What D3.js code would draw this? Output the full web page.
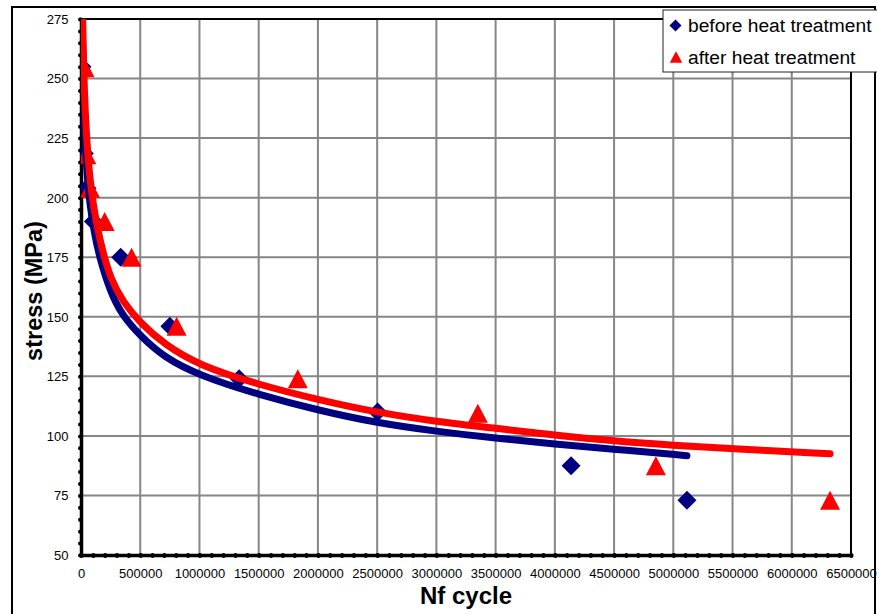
<!DOCTYPE html>
<html>
<head>
<meta charset="utf-8">
<script src="https://cdn.jsdelivr.net/npm/d3@7"></script>
<style>
  body { margin: 0; background: #fff; }
  svg { display: block; font-family: "Liberation Sans", Arial, sans-serif; }
</style>
</head>
<body>
<svg id="chart" width="877" height="614"></svg>
<script>
// ====== data ======
const seriesNames = ["before heat treatment", "after heat treatment"];

// measured points
const beforeCycles = [8000, 28000, 50000, 105000, 335000, 750000, 1335000, 2504000, 4137000, 5115000];
const beforeStress = [255, 218.5, 204, 190, 175, 146, 124, 110, 87.5, 73];
const afterCycles  = [30000, 45000, 76000, 200000, 427000, 807000, 1830000, 3350000, 4853000, 6323000];
const afterStress  = [254.5, 218, 204, 190, 175, 146, 124, 109.5, 87.5, 73];

// trend lines
const beforeFitCycles = [10000, 18000, 30000, 50000, 75000, 110000, 150000, 250000, 350000, 500000, 700000,
                         1000000, 1500000, 2000000, 2500000, 3000000, 3500000, 4000000, 4500000, 5115000];
const beforeFitStress = [275, 250, 228, 210, 197, 186, 176, 160, 150.5, 142, 133,
                         125.3, 117.3, 110.8, 105.4, 101.9, 99.0, 96.6, 94.4, 91.7];
const afterFitCycles  = [14000, 22000, 35000, 55000, 85000, 130000, 185000, 250000, 350000, 500000, 700000,
                         1000000, 1500000, 2000000, 2500000, 3000000, 3500000, 4000000, 4500000, 5000000,
                         5500000, 6323000];
const afterFitStress  = [275, 255, 236, 219, 203, 189, 177, 166, 156.5, 147.5, 138.5,
                         129.5, 121.5, 115.2, 109.8, 106, 103.2, 100.3, 97.8, 96,
                         94.6, 92.5];

const xTickValues = [0, 500000, 1000000, 1500000, 2000000, 2500000, 3000000, 3500000,
                     4000000, 4500000, 5000000, 5500000, 6000000, 6500000];
const yTickValues = [50, 75, 100, 125, 150, 175, 200, 225, 250, 275];

// ====== layout ======
const svg = d3.select("#chart");
const plot = { left: 81, top: 19, right: 851, bottom: 555 };
const navy = "#000080", red = "#ff0000", grid = "#868686";

const x = d3.scaleLinear().domain([0, 6500000]).range([plot.left, plot.right]);
const y = d3.scaleLinear().domain([50, 275]).range([plot.bottom, plot.top]);

// outer chart frame
svg.append("rect")
  .attr("x", 12).attr("y", 7).attr("width", 863).attr("height", 640)
  .attr("fill", "#fff").attr("stroke", "#000").attr("stroke-width", 2);

svg.append("clipPath").attr("id", "plotclip")
  .append("rect")
  .attr("x", plot.left).attr("y", plot.top)
  .attr("width", plot.right - plot.left).attr("height", plot.bottom - plot.top);

// grid
const gGrid = svg.append("g");
gGrid.selectAll(".vg").data(xTickValues.slice(1)).join("line")
  .attr("x1", d => x(d)).attr("x2", d => x(d))
  .attr("y1", plot.top).attr("y2", plot.bottom)
  .attr("stroke", grid).attr("stroke-width", 2);
gGrid.selectAll(".hg").data(yTickValues.slice(1)).join("line")
  .attr("x1", plot.left).attr("x2", plot.right)
  .attr("y1", d => y(d)).attr("y2", d => y(d))
  .attr("stroke", grid).attr("stroke-width", 2);

// plot border (top / right)
svg.append("path")
  .attr("d", `M${plot.left},${plot.top}H${plot.right}V${plot.bottom}`)
  .attr("fill", "none").attr("stroke", "#000").attr("stroke-width", 2);

// axes with dotted minor ticks
const xMinor = d3.range(0, 6500001, 100000);
const yMinor = d3.range(50, 276, 5);

const gx = svg.append("g").attr("transform", `translate(0,${plot.bottom})`)
  .call(d3.axisBottom(x).tickValues(xMinor).tickSize(1).tickSizeOuter(0)
    .tickFormat(d => xTickValues.includes(d) ? d : ""));
const gy = svg.append("g").attr("transform", `translate(${plot.left},0)`)
  .call(d3.axisLeft(y).tickValues(yMinor).tickSize(1).tickSizeOuter(0)
    .tickFormat(d => yTickValues.includes(d) ? d : ""));

[gx, gy].forEach(g => {
  g.select(".domain").attr("stroke", "#000").attr("stroke-width", 3.5);
  g.selectAll(".tick line").attr("stroke", "#000").attr("stroke-width", 4).attr("stroke-linecap", "round");
  g.selectAll(".tick text").attr("fill", "#000").attr("font-size", 13)
    .attr("font-family", "Liberation Sans, Arial, sans-serif");
});
gx.selectAll(".tick text").attr("y", 14).attr("dy", "0.71em");
gy.selectAll(".tick text").attr("x", -12.5).attr("dy", "0.34em");

// axis titles
svg.append("text")
  .attr("x", (plot.left + plot.right) / 2).attr("y", 604)
  .attr("text-anchor", "middle").attr("font-weight", "bold").attr("font-size", 24)
  .text("Nf cycle");
svg.append("text")
  .attr("transform", `translate(42,${(plot.top + plot.bottom) / 2 + 4}) rotate(-90)`)
  .attr("text-anchor", "middle").attr("font-weight", "bold").attr("font-size", 23.5)
  .text("stress (MPa)");

// markers
const diamond = r => `M0,${-r}L${r},0L0,${r}L${-r},0Z`;
const triangle = (w, h) => `M0,${-h / 2}L${w / 2},${h / 2}L${-w / 2},${h / 2}Z`;

const gData = svg.append("g").attr("clip-path", "url(#plotclip)");
const before = beforeCycles.map((n, i) => ({ n, s: beforeStress[i] }));
const after = afterCycles.map((n, i) => ({ n, s: afterStress[i] }));

gData.selectAll(".pb").data(before).join("path")
  .attr("transform", d => `translate(${x(d.n)},${y(d.s)})`)
  .attr("d", diamond(9.5)).attr("fill", navy);
gData.selectAll(".pa").data(after).join("path")
  .attr("transform", d => `translate(${x(d.n)},${y(d.s)})`)
  .attr("d", triangle(20, 19)).attr("fill", red);

// trend lines
const line = d3.line().x(d => x(d.n)).y(d => y(d.s)).curve(d3.curveBasis);
const beforeFit = beforeFitCycles.map((n, i) => ({ n, s: beforeFitStress[i] }));
const afterFit = afterFitCycles.map((n, i) => ({ n, s: afterFitStress[i] }));

gData.append("path").datum(beforeFit).attr("d", line)
  .attr("fill", "none").attr("stroke", navy).attr("stroke-width", 7).attr("stroke-linecap", "round");
gData.append("path").datum(afterFit).attr("d", line)
  .attr("fill", "none").attr("stroke", red).attr("stroke-width", 7).attr("stroke-linecap", "round");

// legend
const lg = svg.append("g");
lg.append("rect")
  .attr("x", 663).attr("y", 10).attr("width", 230).attr("height", 62)
  .attr("fill", "#fff").attr("stroke", "#222").attr("stroke-width", 1);
lg.append("path").attr("transform", "translate(675.5,25.5)").attr("d", diamond(6)).attr("fill", navy);
lg.append("path").attr("transform", "translate(676,57)").attr("d", triangle(12.5, 11.5)).attr("fill", red);
lg.selectAll(".lt").data(seriesNames).join("text")
  .attr("x", 688).attr("y", (d, i) => 31.5 + i * 32)
  .attr("font-size", 19.2).attr("fill", "#000")
  .text(d => d);
</script>
</body>
</html>
